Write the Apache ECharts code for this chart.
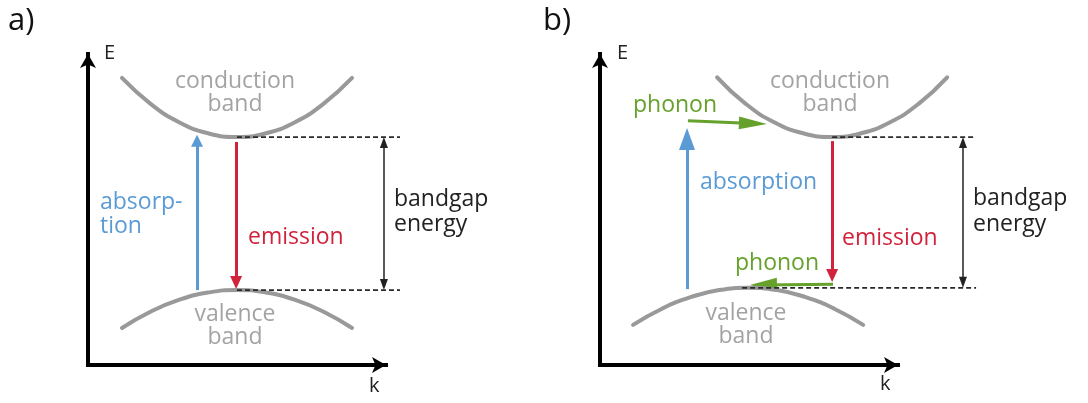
<!DOCTYPE html>
<html>
<head>
<meta charset="utf-8">
<script src="https://cdn.jsdelivr.net/npm/echarts@6/dist/echarts.min.js"></script>
<style>
html, body { margin: 0; padding: 0; background: #fff; }
#bandChart { width: 1088px; height: 403px; }
</style>
</head>
<body>
<div id="bandChart"></div>
<script>
// band curves, k (momentum) and E (energy) in arbitrary units, axes run 0..10
const condKA = [1.14, 2.11, 3.07, 4.03, 5.00, 5.97, 6.93, 7.89, 8.86];
const condEA = [9.23, 8.39, 7.80, 7.45, 7.33, 7.45, 7.80, 8.39, 9.23];
const valKA = [1.14, 2.11, 3.07, 4.03, 5.00, 5.97, 6.93, 7.89, 8.86];
const valEA = [1.19, 1.72, 2.10, 2.33, 2.41, 2.33, 2.10, 1.72, 1.19];

const condKB = [3.93, 4.90, 5.86, 6.82, 7.79, 8.76, 9.72, 10.68, 11.65];
const condEB = [9.25, 8.39, 7.80, 7.45, 7.33, 7.45, 7.80, 8.39, 9.25];
const valKB = [1.11, 2.08, 3.04, 4.00, 4.97, 5.94, 6.90, 7.86, 8.83];
const valEB = [1.29, 1.81, 2.18, 2.41, 2.48, 2.41, 2.18, 1.81, 1.29];

// transitions [kFrom, EFrom, kTo, ETo] (to = arrow tip)
const absorbA = [3.66, 2.41, 3.66, 7.40];
const emitA = [4.97, 7.17, 4.97, 2.44];
const gapA = [9.93, 7.33, 9.93, 2.41];
const edgeUpA = [5.00, 10.47, 7.33];   // kStart, kEnd, E
const edgeDownA = [5.00, 10.47, 2.41];

const absorbB = [2.92, 2.44, 2.92, 7.62];
const phononUpB = [2.95, 7.85, 5.60, 7.75];
const emitB = [7.79, 7.20, 7.79, 2.67];
const phononDownB = [7.82, 2.60, 5.03, 2.57];
const gapB = [12.18, 7.33, 12.18, 2.48];
const edgeUpB = [7.79, 12.62, 7.33];
const edgeDownB = [4.77, 12.62, 2.48];

const BLUE = "#5b9bd5";
const RED = "#d2233c";
const GREEN = "#65a12b";
const GREY = "#999999";
const FONT = '"Open Sans", "DejaVu Sans", sans-serif';

// axis box size in px (for the arrow heads)
const AX_W = 298;
const AX_H = 311;
const K_PX = AX_W / 10;
const E_PX = AX_H / 10;

const chart = echarts.init(document.getElementById("bandChart"));

function zip(ks, es) {
  return ks.map(function(k, i) {
    return [k, es[i]];
  });
}

function band(ks, es, g) {
  return {
    type: "line",
    xAxisIndex: g,
    yAxisIndex: g,
    data: zip(ks, es),
    smooth: true,
    symbol: "none",
    silent: true,
    lineStyle: { color: GREY, width: 4, cap: "round" }
  };
}

function dashed(edge, g) {
  return {
    type: "line",
    xAxisIndex: g,
    yAxisIndex: g,
    data: [[edge[0], edge[2]], [edge[1], edge[2]]],
    symbol: "none",
    silent: true,
    lineStyle: { color: "#2a2a2a", width: 1.8, type: [5, 3] }
  };
}

// triangle heads sit centred on the line end, so pull the ends back by half a head
function arrow(seg, color, width, head, g, both) {
  const dx = (seg[2] - seg[0]) * K_PX;
  const dy = (seg[3] - seg[1]) * E_PX;
  const len = Math.sqrt(dx * dx + dy * dy);
  const ux = dx / len;
  const uy = dy / len;
  const cut = head[1] / 2;
  const to = [seg[2] - (ux * cut) / K_PX, seg[3] - (uy * cut) / E_PX];
  const from = both
    ? [seg[0] + (ux * cut) / K_PX, seg[1] + (uy * cut) / E_PX]
    : [seg[0], seg[1]];
  return {
    type: "lines",
    coordinateSystem: "cartesian2d",
    xAxisIndex: g,
    yAxisIndex: g,
    clip: false,
    silent: true,
    symbol: [both ? "triangle" : "none", "triangle"],
    symbolSize: [head, head],
    lineStyle: { color: color, width: width, opacity: 1, curveness: 0 },
    data: [{ coords: [from, to] }]
  };
}

function shownAxis(g) {
  return {
    type: "value",
    gridIndex: g,
    min: 0,
    max: 10,
    axisLine: {
      show: true,
      onZero: false,
      symbol: ["none", "arrow"],
      symbolSize: [12, 14],
      lineStyle: { color: "#000", width: 4, cap: "square" }
    },
    axisTick: { show: false },
    axisLabel: { show: false },
    splitLine: { show: false }
  };
}

// wider hidden axis with the same scale, so marks right of k = 10 are not clipped
function hiddenAxis(g, max) {
  return {
    type: "value",
    gridIndex: g,
    min: 0,
    max: max,
    show: false,
    splitLine: { show: false }
  };
}

function txt(x, y, s, color, size, align, lh) {
  return {
    type: "text",
    x: x,
    y: y,
    silent: true,
    style: {
      text: s,
      fill: color,
      font: size + "px " + FONT,
      align: align || "left",
      verticalAlign: "middle",
      lineHeight: lh || size
    }
  };
}

const option = {
  animation: false,
  backgroundColor: "#fff",
  grid: [
    { left: 88, top: 54, width: AX_W, height: AX_H },
    { left: 600, top: 54, width: AX_W, height: AX_H },
    { left: 88, top: 54, width: AX_W * 1.3, height: AX_H },
    { left: 600, top: 54, width: AX_W * 1.3, height: AX_H }
  ],
  xAxis: [shownAxis(0), shownAxis(1), hiddenAxis(2, 13), hiddenAxis(3, 13)],
  yAxis: [shownAxis(0), shownAxis(1), hiddenAxis(2, 10), hiddenAxis(3, 10)],
  series: [
    band(condKA, condEA, 2),
    band(valKA, valEA, 2),
    dashed(edgeUpA, 2),
    dashed(edgeDownA, 2),
    arrow(absorbA, BLUE, 3, [12, 12], 2, false),
    arrow(emitA, RED, 3, [12, 13], 2, false),
    arrow(gapA, "#222", 1.5, [8, 11], 2, true),

    band(condKB, condEB, 3),
    band(valKB, valEB, 3),
    dashed(edgeUpB, 3),
    dashed(edgeDownB, 3),
    arrow(absorbB, BLUE, 3, [16, 22], 3, false),
    arrow(phononUpB, GREEN, 3, [13, 28], 3, false),
    arrow(emitB, RED, 3, [12, 13], 3, false),
    arrow(phononDownB, GREEN, 3, [14, 27], 3, false),
    arrow(gapB, "#222", 1.5, [8, 11], 3, true)
  ],
  graphic: [
    txt(8, 21, "a)", "#111", 31),
    txt(104, 53, "E", "#222", 20),
    txt(369, 386, "k", "#222", 20),
    txt(235, 93, "conduction\nband", "#a3a3a3", 23, "center", 23),
    txt(235, 326, "valence\nband", "#a3a3a3", 23, "center", 23),
    txt(100, 214, "absorp-\ntion", BLUE, 23, "left", 24),
    txt(248, 237, "emission", RED, 23),
    txt(394, 212, "bandgap\nenergy", "#222", 23, "left", 25),

    txt(543, 21, "b)", "#111", 31),
    txt(617, 53, "E", "#222", 20),
    txt(880, 384, "k", "#222", 20),
    txt(830, 93, "conduction\nband", "#a3a3a3", 23, "center", 23),
    txt(746, 325, "valence\nband", "#a3a3a3", 23, "center", 23),
    txt(633, 105, "phonon", GREEN, 23),
    txt(700, 182, "absorption", BLUE, 23),
    txt(842, 238, "emission", RED, 23),
    txt(735, 263, "phonon", GREEN, 23),
    txt(973, 211, "bandgap\nenergy", "#222", 23, "left", 26)
  ]
};

chart.setOption(option);
</script>
</body>
</html>
